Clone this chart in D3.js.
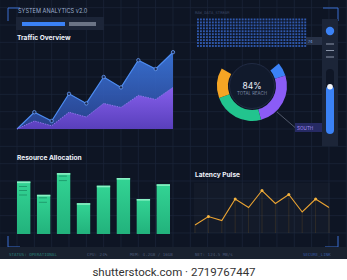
<!DOCTYPE html>
<head>
  <meta charset="utf-8">
  <script src="https://d3js.org/d3.v7.min.js"></script>
  <style>
    body { margin:0; background:#fff; }
    svg { display:block; font-family: Inter, "Liberation Sans", sans-serif; }
  </style>
</head>
<body>
<div class="chart-container"></div>
<script>
// traffic overview (two stacked-looking areas)
var trafficA = [0, 21, 10, 44, 32, 65, 52, 86, 75, 96];
var trafficB = [0, 10, 4, 21, 15, 32, 27, 42, 37, 52];

// donut segments
var reachLabels = ["North", "East", "South", "West"];
var reachValues = [9, 37, 34, 20];
var reachColors = ["#3b82f6", "#8b5cf6", "#22c48e", "#f5a524"];
var reachTotal = "84%";

// resource bars
var resourceNames = ["R1", "R2", "R3", "R4", "R5", "R6", "R7", "R8"];
var resourceValues = [75, 56, 87, 44, 69, 80, 50, 71];

// latency line
var latency = [16, 33, 25, 68, 51, 85, 59, 77, 42, 68, 51];

// status line texts
var statusTexts = ["STATUS: OPERATIONAL", "CPU: 24%", "MEM: 4.2GB / 16GB", "NET: 124.5 MB/s", "SECURE_LINK"];

var W = 347, H = 280;
var svg = d3.select(".chart-container").append("svg")
  .attr("width", W).attr("height", H);

var defs = svg.append("defs");
function grad(id, c1, c2) {
  var g = defs.append("linearGradient").attr("id", id)
    .attr("x1", 0).attr("y1", 0).attr("x2", 0).attr("y2", 1);
  g.append("stop").attr("offset", "0%").attr("stop-color", c1);
  g.append("stop").attr("offset", "100%").attr("stop-color", c2);
}
grad("gBlue", "#3c78e0", "#2a4596");
grad("gPurple", "#8d5ff0", "#5d3fc0");
grad("gGreen", "#33d494", "#22b27c");

// background + grid
svg.append("rect").attr("width", W).attr("height", 259).attr("fill", "#0e1524");
var step = 17.33;
svg.append("g").selectAll("line").data(d3.range(-1, 20)).enter().append("line")
  .attr("x1", function (d) { return 17 + d * step; })
  .attr("x2", function (d) { return 17 + d * step; })
  .attr("y1", 0).attr("y2", 259)
  .attr("stroke", "#1b2539").attr("stroke-width", 0.8);
svg.append("g").selectAll("line").data(d3.range(-8, 8)).enter().append("line")
  .attr("y1", function (d) { return 129 + d * step; })
  .attr("y2", function (d) { return 129 + d * step; })
  .attr("x1", 0).attr("x2", W)
  .attr("stroke", "#1b2539").attr("stroke-width", 0.8);

// corner brackets
var bc = "#3a6fd0";
svg.append("path").attr("d", "M8,21 V8 H20").attr("fill", "none").attr("stroke", bc).attr("stroke-width", 1);
svg.append("path").attr("d", "M323,8 H338 V21").attr("fill", "none").attr("stroke", bc).attr("stroke-width", 1);
svg.append("path").attr("d", "M8,236 V247 H20").attr("fill", "none").attr("stroke", bc).attr("stroke-width", 1);
svg.append("path").attr("d", "M325,247 H338 V236").attr("fill", "none").attr("stroke", bc).attr("stroke-width", 1);

// header
svg.append("text").attr("x", 18).attr("y", 13).attr("font-size", 5.6).attr("fill", "#9fb0cf")
  .text("SYSTEM ANALYTICS v2.0");
svg.append("rect").attr("x", 16).attr("y", 17).attr("width", 88).attr("height", 13).attr("fill", "#1c2538");
svg.append("rect").attr("x", 22).attr("y", 22).attr("width", 43).attr("height", 4).attr("fill", "#3b82f6");
svg.append("rect").attr("x", 69).attr("y", 22).attr("width", 27).attr("height", 4).attr("fill", "#6b7486");

// Traffic Overview
svg.append("text").attr("x", 17).attr("y", 39.5).attr("font-size", 6.6).attr("font-weight", "bold")
  .attr("fill", "#eef2fa").text("Traffic Overview");

var xT = d3.scaleLinear().domain([0, trafficA.length - 1]).range([17, 173]);
var yT = d3.scaleLinear().domain([0, 100]).range([129, 49]);
var areaT = d3.area().x(function (d, i) { return xT(i); }).y0(yT(0)).y1(function (d) { return yT(d); });
var lineT = d3.line().x(function (d, i) { return xT(i); }).y(function (d) { return yT(d); });

svg.append("path").datum(trafficA).attr("d", areaT).attr("fill", "url(#gBlue)").attr("opacity", 0.9);
svg.append("path").datum(trafficA).attr("d", lineT).attr("fill", "none").attr("stroke", "#4d8cf2").attr("stroke-width", 1.2);
svg.append("path").datum(trafficB).attr("d", areaT).attr("fill", "url(#gPurple)").attr("opacity", 0.92);
svg.append("path").datum(trafficB).attr("d", lineT).attr("fill", "none").attr("stroke", "#9d7cf5")
  .attr("stroke-width", 0.8).attr("stroke-dasharray", "1.5,1");
svg.append("g").selectAll("circle").data(trafficA.slice(1)).enter().append("circle")
  .attr("cx", function (d, i) { return xT(i + 1); })
  .attr("cy", function (d) { return yT(d); })
  .attr("r", 1.7).attr("fill", "#1a2a52").attr("stroke", "#6a9df5").attr("stroke-width", 0.8);

// raw data stream dot matrix
svg.append("text").attr("x", 195).attr("y", 13.5).attr("font-size", 3.8).attr("fill", "#3b4866")
  .attr("font-family", "DejaVu Sans Mono").text("RAW_DATA_STREAM");
var cols = d3.range(37), rows = d3.range(10);
var dots = svg.append("g");
rows.forEach(function (r) {
  dots.selectAll(null).data(cols).enter().append("rect")
    .attr("x", function (c) { return 197 + c * 2.98; })
    .attr("y", 18.5 + r * 2.95)
    .attr("width", 1.9).attr("height", 1.9)
    .attr("fill", "#2f58ad");
});
svg.append("rect").attr("x", 306).attr("y", 37).attr("width", 16).attr("height", 8).attr("fill", "#273147");
svg.append("text").attr("x", 308).attr("y", 43).attr("font-size", 4).attr("fill", "#7aa0e0").text("74");

// right side panel
svg.append("rect").attr("x", 322).attr("y", 19).attr("width", 16).attr("height", 127).attr("fill", "#1c2538");
svg.append("circle").attr("cx", 330).attr("cy", 31).attr("r", 4.2).attr("fill", "#3b82f6");
svg.append("g").selectAll("line").data([44, 50.5, 57]).enter().append("line")
  .attr("x1", 326).attr("x2", 334).attr("y1", function (d) { return d; }).attr("y2", function (d) { return d; })
  .attr("stroke", "#8a94a8").attr("stroke-width", 1);
var ySlider = d3.scaleLinear().domain([0, 100]).range([133, 70]);
svg.append("rect").attr("x", 326).attr("y", 69).attr("width", 8).attr("height", 65).attr("rx", 4).attr("fill", "#0f1626");
svg.append("rect").attr("x", 326).attr("y", ySlider(75)).attr("width", 8).attr("height", 133 - ySlider(75) + 1)
  .attr("rx", 4).attr("fill", "#3b82f6");
svg.append("circle").attr("cx", 330).attr("cy", ySlider(75) + 1).attr("r", 2.8).attr("fill", "#f2f4f8");

// donut
var cx = 252, cy = 86;
var pie = d3.pie().sort(null).startAngle(50 * Math.PI / 180).endAngle(300 * Math.PI / 180);
var arc = d3.arc().innerRadius(24).outerRadius(35);
svg.append("circle").attr("cx", cx).attr("cy", cy).attr("r", 22.5).attr("fill", "#111a2c")
  .attr("stroke", "#26304a").attr("stroke-width", 0.8);
svg.append("g").attr("transform", "translate(" + cx + "," + cy + ")")
  .selectAll("path").data(pie(reachValues)).enter().append("path")
  .attr("d", arc).attr("fill", function (d, i) { return reachColors[i]; });
svg.append("text").attr("x", cx).attr("y", cy + 2.5).attr("text-anchor", "middle").attr("font-size", 8.5)
  .attr("fill", "#f0f3fa").text(reachTotal);
svg.append("text").attr("x", cx).attr("y", cy + 9).attr("text-anchor", "middle").attr("font-size", 4.4)
  .attr("fill", "#7f8ca8").text("TOTAL REACH");
svg.append("line").attr("x1", 277).attr("y1", 112).attr("x2", 295).attr("y2", 127.5)
  .attr("stroke", "#7d879a").attr("stroke-width", 0.6);
svg.append("rect").attr("x", 295).attr("y", 123).attr("width", 27).attr("height", 9).attr("fill", "#262a63");
svg.append("text").attr("x", 297).attr("y", 129.8).attr("font-size", 4.6).attr("fill", "#a58cf5").text(reachLabels[2].toUpperCase());

// Resource Allocation
svg.append("text").attr("x", 17).attr("y", 160).attr("font-size", 6.6).attr("font-weight", "bold")
  .attr("fill", "#eef2fa").text("Resource Allocation");
var xB = d3.scaleBand().domain(resourceNames).range([17, 170]).paddingInner(0.33).paddingOuter(0);
var yB = d3.scaleLinear().domain([0, 100]).range([234, 164]);
var bars = svg.append("g").selectAll("g").data(resourceValues).enter().append("g");
bars.append("rect")
  .attr("x", function (d, i) { return xB(resourceNames[i]); })
  .attr("y", function (d) { return yB(d); })
  .attr("width", xB.bandwidth())
  .attr("height", function (d) { return yB(0) - yB(d); })
  .attr("fill", "url(#gGreen)");
bars.append("rect")
  .attr("x", function (d, i) { return xB(resourceNames[i]); })
  .attr("y", function (d) { return yB(d); })
  .attr("width", xB.bandwidth()).attr("height", 1.6)
  .attr("fill", "#8af0c4");
// little inner marks on first three bars
var marks = [[5, 9, 13.5], [3, 7.5], [3, 7.5]];
marks.forEach(function (m, i) {
  svg.append("g").selectAll("line").data(m).enter().append("line")
    .attr("x1", xB(resourceNames[i]) + 2).attr("x2", xB(resourceNames[i]) + 10)
    .attr("y1", function (d) { return yB(resourceValues[i]) + d; })
    .attr("y2", function (d) { return yB(resourceValues[i]) + d; })
    .attr("stroke", "#1c8f66").attr("stroke-width", 0.8);
});

// Latency Pulse
svg.append("text").attr("x", 195).attr("y", 177).attr("font-size", 6.6).attr("font-weight", "bold")
  .attr("fill", "#eef2fa").text("Latency Pulse");
svg.append("rect").attr("x", 194).attr("y", 183).attr("width", 136).attr("height", 50).attr("fill", "#ffffff").attr("opacity", 0.025);
var xL = d3.scaleLinear().domain([0, latency.length - 1]).range([195, 329]);
var yL = d3.scaleLinear().domain([0, 100]).range([233, 183]);
svg.append("g").selectAll("line").data(latency).enter().append("line")
  .attr("x1", function (d, i) { return xL(i); }).attr("x2", function (d, i) { return xL(i); })
  .attr("y1", function (d) { return yL(d); }).attr("y2", 233)
  .attr("stroke", "#f5a524").attr("stroke-opacity", 0.12).attr("stroke-width", 1);
svg.append("path").datum(latency)
  .attr("d", d3.line().x(function (d, i) { return xL(i); }).y(function (d) { return yL(d); }))
  .attr("fill", "none").attr("stroke", "#eaa332").attr("stroke-width", 1.1);
var latDots = latency.map(function (v, i) { return { i: i, v: v }; })
  .filter(function (d) { return d.i % 2 === 1; });
svg.append("g").selectAll("circle").data(latDots).enter().append("circle")
  .attr("cx", function (d) { return xL(d.i); })
  .attr("cy", function (d) { return yL(d.v); })
  .attr("r", 1.5).attr("fill", "#f2b240");

// status bar
svg.append("rect").attr("x", 0).attr("y", 247).attr("width", W).attr("height", 12).attr("fill", "#19212f");
var statusX = [9, 87, 130, 195, 303];
var statusC = ["#2a7f78", "#4b5874", "#4b5874", "#4b5874", "#3657a0"];
svg.append("g").selectAll("text").data(statusTexts).enter().append("text")
  .attr("x", function (d, i) { return statusX[i]; }).attr("y", 255.5)
  .attr("font-size", 4.2).attr("font-family", "DejaVu Sans Mono")
  .attr("fill", function (d, i) { return statusC[i]; })
  .text(function (d) { return d; });

// watermark strip
svg.append("rect").attr("x", 0).attr("y", 259).attr("width", W).attr("height", 21).attr("fill", "#ffffff");
svg.append("text").attr("x", 174).attr("y", 275.5).attr("text-anchor", "middle").attr("font-size", 11.5)
  .attr("font-family", "Roboto, sans-serif").attr("fill", "#333").text("shutterstock.com · 2719767447");
</script>
</body>
